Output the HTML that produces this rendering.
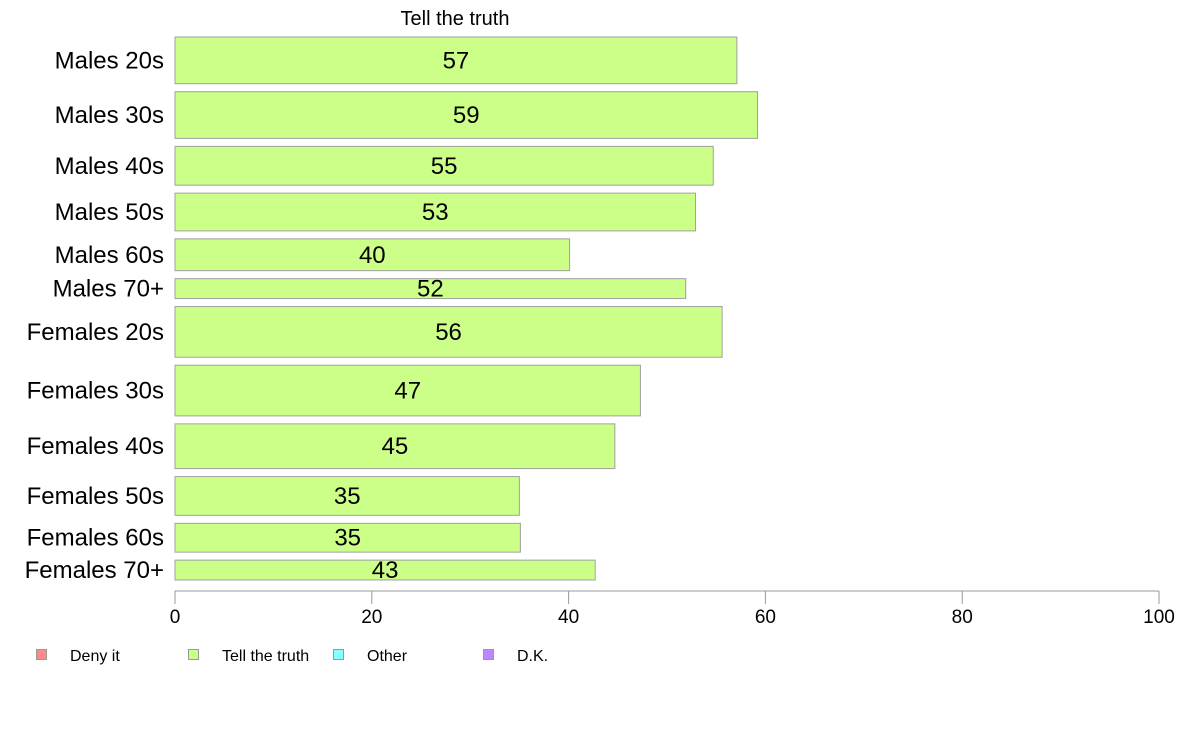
<!DOCTYPE html>
<html><head><meta charset="utf-8"><style>
body{margin:0;background:#fff}
svg{display:block;font-family:"Liberation Sans",Arial,sans-serif}
</style></head><body>
<svg width="1188" height="736">
<text x="455" y="25" font-size="20" text-anchor="middle">Tell the truth</text>
<g id="bars"></g>
<g id="axis"></g>
<g id="legend"></g>
</svg>
<script>
const categories=["Males 20s","Males 30s","Males 40s","Males 50s","Males 60s","Males 70+","Females 20s","Females 30s","Females 40s","Females 50s","Females 60s","Females 70+"];
const values=[57.1,59.2,54.7,52.9,40.1,51.9,55.6,47.3,44.7,35.0,35.1,42.7];
const labels=["57","59","55","53","40","52","56","47","45","35","35","43"];
const weights=[47,47,39,38,32,20,51,51,45,39,29,20];
const ticks=[0,20,40,60,80,100];
const legendItems=["Deny it","Tell the truth","Other","D.K."];
const legendColors=["#ff8888","#ccff88","#88ffff","#bb88ff"];
const NS="http://www.w3.org/2000/svg";
const x0=175,x1=1159,top0=37,bottom0=580,gap=8;
const xs=v=>x0+(v/100)*(x1-x0);
const totalW=weights.reduce((a,b)=>a+b,0);
const unit=(bottom0-top0-gap*(weights.length-1))/totalW;
function mk(t,a,p){const e=document.createElementNS(NS,t);for(const k in a)e.setAttribute(k,a[k]);p.appendChild(e);return e;}
const bars=document.getElementById('bars');
let y=top0;
categories.forEach((c,i)=>{
  const h=weights[i]*unit;
  const r=mk('rect',{x:x0,y:y,width:xs(values[i])-x0,height:h,fill:'#ccff88',stroke:'#a0a0a0','stroke-width':1},bars);
  
  
  const t=mk('text',{x:(x0+xs(values[i]))/2,y:y+h/2+8,'font-size':24,'text-anchor':'middle'},bars);
  t.textContent=labels[i];
  
  
  const l=mk('text',{x:164,y:y+h/2+8,'font-size':24,'text-anchor':'end'},bars);
  l.textContent=c;
  
  
  y+=h+gap;
});
const ax=document.getElementById('axis');
const al=mk('line',{x1:x0,x2:x1,y1:591,y2:591,stroke:'#999','stroke-width':1},ax);


ticks.forEach(v=>{
  const tl=mk('line',{x1:xs(v),x2:xs(v),y1:591,y2:604,stroke:'#999','stroke-width':1},ax);
  
  
  const tt=mk('text',{x:xs(v),y:623,'font-size':19,'text-anchor':'middle'},ax);
  tt.textContent=v;
  
  
});
const lg=document.getElementById('legend');
const lx=[36,188,333,483];
legendItems.forEach((n,i)=>{
  const g=mk('g',{},lg);
  
  
  mk('rect',{x:lx[i]+0.5,y:649.5,width:10,height:10,fill:legendColors[i],stroke:'#999'},g);
  const t=mk('text',{x:lx[i]+34,y:661,'font-size':16},g);
  t.textContent=n;
});
</script>
</body></html>
